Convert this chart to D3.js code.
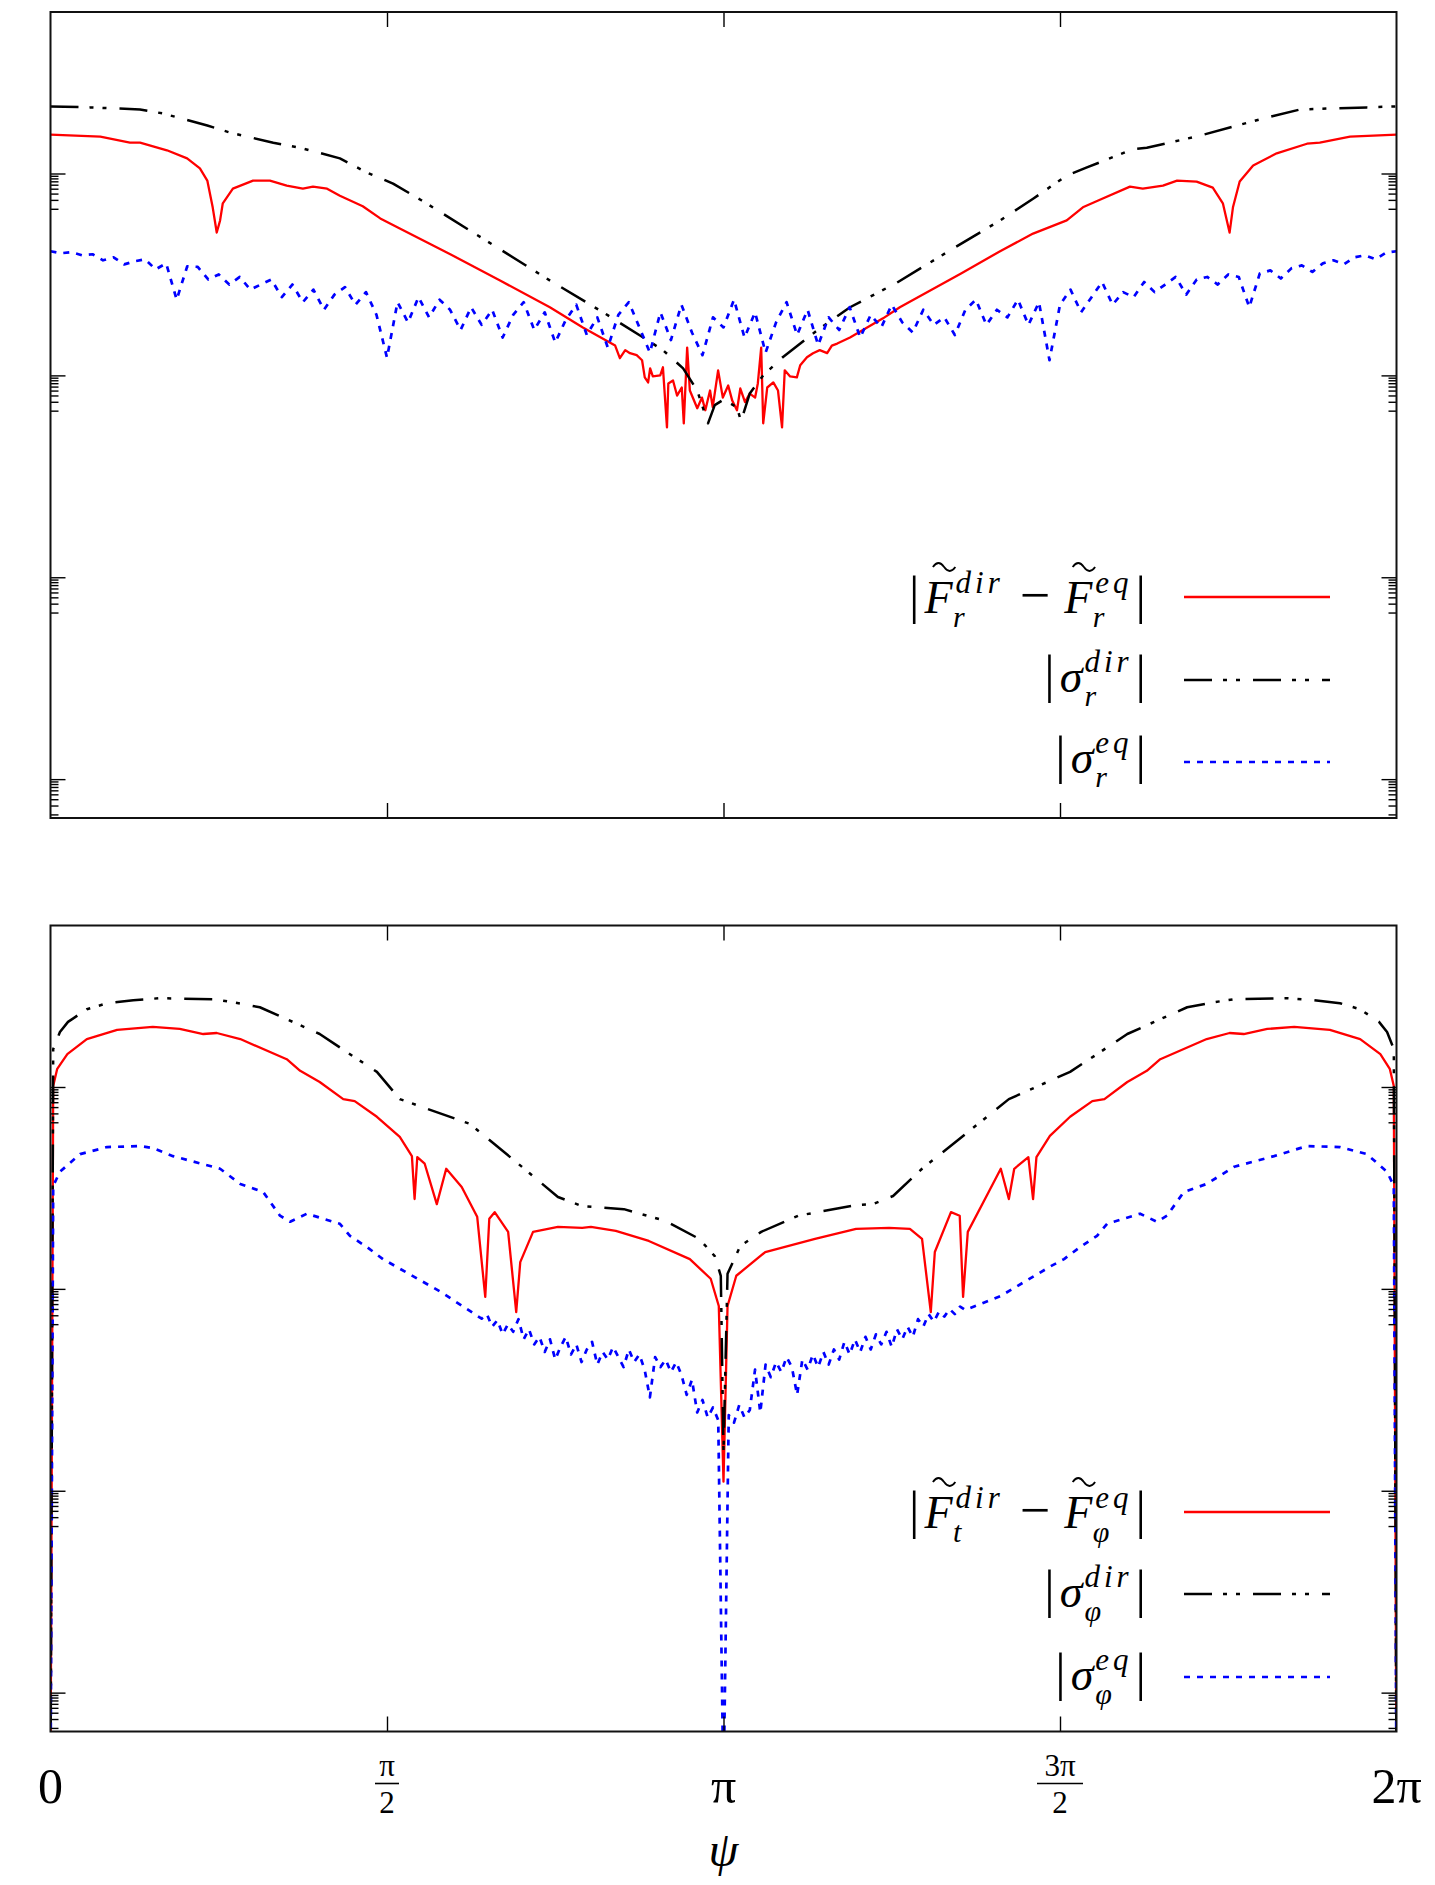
<!DOCTYPE html>
<html>
<head>
<meta charset="utf-8">
<script src="https://cdn.jsdelivr.net/npm/d3@7"></script>
<style>
  body { margin: 0; background: #fff; }
  svg { display: block; }
  text { font-family: 'Liberation Serif', 'Times New Roman', serif; fill: #000; }
</style>
</head>
<body>
<svg id="chart"></svg>
<script>
// psi values are stored in units of pi, magnitudes as log10 of the value

// ---- top panel (r component) ----
const sigDirR_psi = [0, 0.059, 0.133, 0.167, 0.233, 0.267, 0.331, 0.371, 0.430, 0.470,
  0.509, 0.551, 0.640, 0.747, 0.821, 0.876, 0.910, 0.940, 0.961, 0.977,
  0.987, 1.0, 1.020, 1.026, 1.039, 1.059, 1.088, 1.139, 1.188, 1.258,
  1.337, 1.411, 1.460, 1.510, 1.540, 1.608, 1.629, 1.708, 1.757, 1.808,
  1.857, 1.956, 2.0]
const sigDirR_log = [-0.67, -0.69, -0.73, -0.81, -1.05, -1.19, -1.39, -1.49, -1.70, -1.98,
  -2.20, -2.53, -3.27, -4.16, -4.75, -5.21, -5.50, -5.86, -6.30, -6.95,
  -6.59, -6.48, -6.63, -6.91, -6.36, -6.00, -5.64, -5.11, -4.65, -4.16,
  -3.52, -2.93, -2.50, -2.04, -1.88, -1.52, -1.49, -1.25, -1.07, -0.89,
  -0.73, -0.69, -0.67]

const diffR_psi = [0, 0.074, 0.118, 0.133, 0.173, 0.203, 0.222, 0.233, 0.241, 0.247,
  0.252, 0.256, 0.271, 0.301, 0.326, 0.351, 0.375, 0.390, 0.411, 0.430,
  0.464, 0.490, 0.519, 0.594, 0.668, 0.742, 0.791, 0.839, 0.846, 0.854,
  0.861, 0.871, 0.879, 0.883, 0.888, 0.891, 0.895, 0.906, 0.910, 0.916,
  0.918, 0.925, 0.931, 0.938, 0.941, 0.946, 0.950, 0.961, 0.968, 0.973,
  0.980, 0.984, 0.992, 0.999, 1.007, 1.013, 1.020, 1.025, 1.032, 1.039,
  1.047, 1.051, 1.056, 1.059, 1.065, 1.074, 1.081, 1.087, 1.091, 1.099,
  1.109, 1.114, 1.124, 1.133, 1.143, 1.154, 1.161, 1.169, 1.188, 1.237,
  1.262, 1.353, 1.411, 1.460, 1.510, 1.534, 1.561, 1.604, 1.623, 1.653,
  1.674, 1.703, 1.727, 1.742, 1.752, 1.757, 1.767, 1.787, 1.822, 1.867,
  1.886, 1.931, 2.0]
const diffR_log = [-1.23, -1.27, -1.39, -1.39, -1.54, -1.70, -1.90, -2.14, -2.67, -3.17,
  -2.93, -2.59, -2.30, -2.14, -2.14, -2.24, -2.30, -2.26, -2.30, -2.44,
  -2.65, -2.89, -3.09, -3.60, -4.12, -4.65, -5.05, -5.41, -5.66, -5.50,
  -5.56, -5.60, -5.70, -6.04, -6.14, -5.86, -6.02, -6.00, -5.84, -7.03,
  -6.16, -6.10, -6.40, -6.24, -6.95, -5.45, -6.30, -6.65, -6.44, -6.69,
  -6.30, -6.63, -5.90, -6.44, -6.20, -6.50, -6.69, -6.26, -6.53, -6.36,
  -6.44, -6.16, -5.45, -6.95, -6.24, -6.14, -6.30, -7.03, -5.90, -6.02,
  -6.04, -5.80, -5.64, -5.56, -5.50, -5.56, -5.41, -5.37, -5.25, -4.87,
  -4.65, -3.98, -3.54, -3.19, -2.93, -2.67, -2.51, -2.26, -2.30, -2.24,
  -2.14, -2.16, -2.28, -2.59, -3.17, -2.67, -2.16, -1.84, -1.60, -1.41,
  -1.39, -1.27, -1.23]

// sampled every pi/64 from 0 to 2pi
const sigEqR_step = 1 / 64
const sigEqR_log = [
  -3.54, -3.58, -3.56, -3.62, -3.60, -3.72, -3.66, -3.80, -3.74, -3.70,
  -3.90, -3.78, -4.50, -3.84, -3.85, -4.10, -4.00, -4.20, -4.05, -4.30,
  -4.20, -4.10, -4.45, -4.20, -4.55, -4.30, -4.70, -4.40, -4.25, -4.60,
  -4.35, -4.80, -5.65, -4.55, -4.95, -4.45, -4.85, -4.50, -4.70, -5.10,
  -4.65, -5.00, -4.70, -5.25, -4.80, -4.55, -5.10, -4.75, -5.35, -4.90,
  -4.60, -5.20, -4.85, -5.45, -4.80, -4.55, -5.05, -5.55, -4.75, -5.30,
  -4.60, -5.15, -5.60, -4.85, -5.05, -4.50, -5.25, -4.75, -5.55, -4.95,
  -4.55, -5.20, -4.70, -5.40, -4.85, -5.10, -4.65, -5.25, -4.80, -5.05,
  -4.60, -4.95, -5.15, -4.70, -5.00, -4.85, -5.20, -4.70, -4.50, -5.00,
  -4.70, -4.85, -4.50, -5.00, -4.55, -5.70, -4.60, -4.30, -4.75, -4.45,
  -4.15, -4.60, -4.35, -4.45, -4.15, -4.35, -4.20, -4.05, -4.40, -4.10,
  -4.05, -4.20, -4.00, -4.05, -4.65, -3.98, -3.92, -4.08, -3.88, -3.82,
  -3.95, -3.78, -3.72, -3.80, -3.66, -3.62, -3.70, -3.57, -3.54]

// ---- bottom panel (phi component) ----
const sigDirPhi_psi = [0, 0.004, 0.014, 0.026, 0.054, 0.084, 0.123, 0.163, 0.241, 0.271,
  0.311, 0.360, 0.400, 0.445, 0.485, 0.519, 0.623, 0.704, 0.754, 0.790,
  0.852, 0.913, 0.964, 0.987, 0.996, 1.0, 1.006, 1.025, 1.056, 1.111,
  1.197, 1.222, 1.252, 1.295, 1.369, 1.424, 1.515, 1.555, 1.600, 1.640,
  1.689, 1.729, 1.759, 1.837, 1.877, 1.916, 1.946, 1.974, 1.986, 1.996,
  2.0]
const sigDirPhi_log = [-16, -1.25, -0.91, -0.71, -0.46, -0.34, -0.28, -0.24, -0.26, -0.32,
  -0.42, -0.71, -0.95, -1.35, -1.70, -2.24, -2.73, -3.62, -4.18, -4.36,
  -4.42, -4.65, -5.01, -5.35, -5.74, -9.23, -5.70, -5.15, -4.87, -4.55,
  -4.34, -4.32, -4.16, -3.62, -2.83, -2.24, -1.70, -1.35, -0.95, -0.71,
  -0.42, -0.32, -0.26, -0.24, -0.28, -0.34, -0.46, -0.71, -0.91, -1.25,
  -16]

const diffPhi_psi = [0, 0.004, 0.010, 0.025, 0.054, 0.099, 0.152, 0.192, 0.227, 0.247,
  0.282, 0.351, 0.371, 0.400, 0.435, 0.452, 0.485, 0.519, 0.537, 0.541,
  0.545, 0.556, 0.574, 0.588, 0.611, 0.634, 0.646, 0.652, 0.660, 0.680,
  0.692, 0.698, 0.717, 0.754, 0.790, 0.803, 0.840, 0.889, 0.950, 0.981,
  0.993, 1.0, 1.006, 1.019, 1.062, 1.136, 1.197, 1.246, 1.277, 1.295,
  1.308, 1.314, 1.338, 1.351, 1.356, 1.363, 1.394, 1.412, 1.424, 1.432,
  1.453, 1.460, 1.465, 1.485, 1.515, 1.548, 1.566, 1.600, 1.629, 1.649,
  1.718, 1.752, 1.773, 1.808, 1.848, 1.901, 1.946, 1.976, 1.990, 1.996,
  2.0]
const diffPhi_log = [-16, -1.98, -1.64, -1.35, -1.05, -0.87, -0.81, -0.85, -0.95, -0.93,
  -1.05, -1.45, -1.68, -1.90, -2.24, -2.28, -2.59, -2.99, -3.37, -4.22,
  -3.39, -3.52, -4.32, -3.62, -3.98, -4.57, -6.16, -4.61, -4.48, -4.87,
  -6.46, -5.47, -4.87, -4.77, -4.79, -4.77, -4.85, -5.05, -5.41, -5.80,
  -6.34, -9.82, -6.34, -5.74, -5.27, -5.01, -4.81, -4.79, -4.81, -5.01,
  -6.46, -5.27, -4.48, -4.55, -6.16, -4.87, -4.08, -3.62, -4.22, -3.62,
  -3.39, -4.22, -3.39, -2.97, -2.59, -2.28, -2.24, -1.90, -1.68, -1.45,
  -1.05, -0.93, -0.95, -0.85, -0.81, -0.87, -1.05, -1.35, -1.64, -1.98,
  -16]

const sigEqPhiL_psi = [0, 0.004, 0.014, 0.044, 0.084, 0.133, 0.152, 0.182, 0.241, 0.252,
  0.282, 0.316, 0.341, 0.356, 0.381, 0.420, 0.430, 0.445, 0.470, 0.494,
  0.519, 0.580]
const sigEqPhiL_log = [-16, -3.96, -3.68, -3.33, -3.19, -3.17, -3.21, -3.37, -3.58, -3.62,
  -3.92, -4.08, -4.55, -4.67, -4.51, -4.67, -4.71, -4.95, -5.17, -5.41,
  -5.60, -6.06]
// noisy middle part, sampled every pi/128 from 82pi/128 to 174pi/128
const sigEqPhiMid_start = 82
const sigEqPhiMid_step = 1 / 128
const sigEqPhiMid_log = [
  -6.59, -6.50, -6.75, -6.62, -6.90, -6.70, -6.85, -6.60, -7.00, -6.80,
  -7.10, -6.95, -7.25, -7.00, -7.40, -7.15, -6.95, -7.30, -7.10, -7.45,
  -7.20, -7.05, -7.50, -7.25, -7.40, -7.15, -7.35, -7.55, -7.20, -7.45,
  -7.30, -7.60, -8.15, -7.35, -7.55, -7.40, -7.65, -7.45, -7.70, -8.10,
  -7.80, -8.45, -8.20, -8.55, -8.35, -8.60, -16, -8.50, -8.65, -8.30,
  -8.55, -8.40, -7.60, -8.45, -7.50, -7.75, -7.45, -7.65, -7.35, -7.55,
  -8.10, -7.40, -7.60, -7.30, -7.55, -7.25, -7.50, -7.20, -7.40, -7.05,
  -7.30, -7.00, -7.25, -6.95, -7.20, -6.90, -7.10, -6.85, -7.15, -6.80,
  -7.00, -6.75, -6.95, -6.60, -6.75, -6.50, -6.65, -6.45, -6.55, -6.40,
  -6.50, -6.35, -6.42]
const sigEqPhiR_psi = [1.412, 1.485, 1.506, 1.530, 1.555, 1.570, 1.580, 1.619, 1.644, 1.659,
  1.684, 1.718, 1.759, 1.818, 1.867, 1.916, 1.956, 1.986, 1.996, 2.0]
const sigEqPhiR_log = [-6.14, -5.56, -5.41, -5.17, -4.95, -4.71, -4.67, -4.51, -4.67, -4.55,
  -4.08, -3.92, -3.58, -3.37, -3.17, -3.19, -3.33, -3.68, -3.96, -16]

// axes
const yLogRange = [-14.77, 1.2]
const yMajor = [1e-2, 1e-6, 1e-10, 1e-14]
const yMinorMant = [2, 3, 4, 5, 6, 7, 8, 9]
const xTicks = [0.5, 1, 1.5]

/**
 * Layout
 */
const W = 1435
const H = 1885
const xL = 50.5
const xR = 1396.5
const panels = [{ top: 12, bottom: 818 }, { top: 925.5, bottom: 1731.5 }]
const c_red = '#ff0000'
const c_blue = '#0000ff'

let svg = d3.select('#chart').attr('width', W).attr('height', H)

let x = d3.scaleLinear().domain([0, 2 * Math.PI]).range([xL, xR])

function toPts (psi, logs) {
  return psi.map((p, i) => ({ x: p * Math.PI, y: Math.pow(10, logs[i]) }))
}

function gridPts (start, step, logs) {
  return logs.map((v, i) => ({ x: (start + i) * step * Math.PI, y: Math.pow(10, v) }))
}

let yMinor = []
yMajor.forEach((m) => yMinorMant.forEach((k) => yMinor.push(k * m / 10)))

// math label in a single <text>: glyphs with optional tilde / sup / sub
function mathLabel (g, parts, xEnd, base) {
  let lg = g.append('g')
  let t = lg.append('text').attr('x', 0).attr('y', base)
  let pen = 0
  let curDy = 0
  let next = 0
  let tildes = []

  function span (txt, size, italic, dx, yOff, ls) {
    let s = t.append('tspan')
      .attr('dx', dx)
      .attr('dy', yOff - curDy)
      .style('font-size', size + 'px')
      .style('font-style', italic ? 'italic' : 'normal')
      .text(txt)
    if (ls) s.style('letter-spacing', ls + 'px')
    curDy = yOff
    return s.node().getComputedTextLength()
  }

  parts.forEach((p) => {
    let start = next + (p.pre || 0)
    let w = span(p.txt, p.size || 46, p.it, start - pen, 0)
    pen = start + w
    if (p.tilde) tildes.push({ x: start + w * 0.3, w: w * 0.8 })
    let end = pen
    let baseEnd = pen
    if (p.sup) {
      let s0 = baseEnd + (p.supDx || 1)
      let sw = span(p.sup, 31, true, s0 - pen, -20, 4)
      pen = s0 + sw
      end = Math.max(end, pen)
    }
    if (p.sub) {
      let s0 = baseEnd + (p.subDx || 0)
      let sw = span(p.sub, 30, true, s0 - pen, 14, 0)
      pen = s0 + sw
      end = Math.max(end, pen)
    }
    next = end + (p.post || 0)
  })

  tildes.forEach((d) => {
    let ty = base - 46
    lg.append('path')
      .attr('d', `M${d.x},${ty}q${d.w / 4},-8 ${d.w / 2},0t${d.w / 2},0`)
      .attr('fill', 'none')
      .attr('stroke', '#000')
      .attr('stroke-width', 1.8)
  })
  lg.attr('transform', `translate(${xEnd - next},0)`)
}

function drawPanel (idx, series, legend) {
  let p = panels[idx]
  let y = d3.scaleLog()
    .domain([Math.pow(10, yLogRange[0]), Math.pow(10, yLogRange[1])])
    .range([p.bottom, p.top])

  let g = svg.append('g')

  svg.append('clipPath').attr('id', 'clip' + idx)
    .append('rect')
    .attr('x', xL).attr('y', p.top)
    .attr('width', xR - xL).attr('height', p.bottom - p.top)

  let line = d3.line().x((d) => x(d.x)).y((d) => y(d.y))

  // curves
  let cg = g.append('g').attr('clip-path', `url(#clip${idx})`)
  series.forEach((s) => {
    cg.append('path')
      .datum(s.data)
      .attr('d', line)
      .attr('fill', 'none')
      .attr('stroke', s.color)
      .attr('stroke-width', s.width)
      .attr('stroke-dasharray', s.dash)
      .attr('stroke-linejoin', 'round')
  })

  // axes (ticks only, pointing inward)
  let xt = xTicks.map((v) => v * Math.PI)
  g.append('g')
    .attr('transform', `translate(0,${p.bottom})`)
    .call(d3.axisBottom(x).tickValues(xt).tickSize(-15).tickFormat(''))
  g.append('g')
    .attr('transform', `translate(0,${p.top})`)
    .call(d3.axisTop(x).tickValues(xt).tickSize(-15).tickFormat(''))
  g.append('g')
    .attr('transform', `translate(${xL},0)`)
    .call(d3.axisLeft(y).tickValues(yMajor).tickSize(-15).tickFormat(''))
  g.append('g')
    .attr('transform', `translate(${xL},0)`)
    .call(d3.axisLeft(y).tickValues(yMinor).tickSize(-8).tickFormat(''))
  g.append('g')
    .attr('transform', `translate(${xR},0)`)
    .call(d3.axisRight(y).tickValues(yMajor).tickSize(-15).tickFormat(''))
  g.append('g')
    .attr('transform', `translate(${xR},0)`)
    .call(d3.axisRight(y).tickValues(yMinor).tickSize(-8).tickFormat(''))
  g.selectAll('.domain').remove()
  g.selectAll('.tick line').attr('stroke', '#000').attr('stroke-width', 1.4)

  // frame
  g.append('rect')
    .attr('x', xL).attr('y', p.top)
    .attr('width', xR - xL).attr('height', p.bottom - p.top)
    .attr('fill', 'none')
    .attr('stroke', '#111')
    .attr('stroke-width', 2)

  // legend
  legend.forEach((r) => {
    g.append('line')
      .attr('x1', 1184).attr('x2', 1330)
      .attr('y1', r.y).attr('y2', r.y)
      .attr('stroke', r.color)
      .attr('stroke-width', r.width)
      .attr('stroke-dasharray', r.dash)
    mathLabel(g, r.parts, 1146, r.y + r.dy)
  })
}

const dashBlack = '28,11,4,9,4,13'
const dashBlue = '6,7'

let bar = { txt: '|', size: 52, post: 5 }
let barR = { txt: '|', size: 52, pre: 3 }
let minus = { txt: '−', size: 54, pre: 16, post: 14 }

drawPanel(0, [
  { data: toPts(diffR_psi, diffR_log), color: c_red, width: 2.3, dash: null },
  { data: toPts(sigDirR_psi, sigDirR_log), color: '#000', width: 2.5, dash: dashBlack },
  { data: gridPts(0, sigEqR_step, sigEqR_log), color: c_blue, width: 2.7, dash: dashBlue }
], [
  { y: 597, dy: 16, color: c_red, width: 2.3, dash: null,
    parts: [bar, { txt: 'F', it: true, tilde: true, sup: 'dir', sub: 'r', supDx: 3, subDx: 0.5 },
      minus, { txt: 'F', it: true, tilde: true, sup: 'eq', sub: 'r', supDx: 3, subDx: 0.5 }, barR] },
  { y: 680, dy: 12, color: '#000', width: 2.5, dash: dashBlack,
    parts: [bar, { txt: 'σ', it: true, sup: 'dir', sub: 'r', supDx: 2, subDx: 2 }, barR] },
  { y: 762, dy: 11, color: c_blue, width: 2.7, dash: dashBlue,
    parts: [bar, { txt: 'σ', it: true, sup: 'eq', sub: 'r', supDx: 2, subDx: 2 }, barR] }
])

let sigEqPhi = toPts(sigEqPhiL_psi, sigEqPhiL_log)
  .concat(gridPts(sigEqPhiMid_start, sigEqPhiMid_step, sigEqPhiMid_log))
  .concat(toPts(sigEqPhiR_psi, sigEqPhiR_log))

drawPanel(1, [
  { data: toPts(diffPhi_psi, diffPhi_log), color: c_red, width: 2.3, dash: null },
  { data: toPts(sigDirPhi_psi, sigDirPhi_log), color: '#000', width: 2.5, dash: dashBlack },
  { data: sigEqPhi, color: c_blue, width: 2.7, dash: dashBlue }
], [
  { y: 1512, dy: 16, color: c_red, width: 2.3, dash: null,
    parts: [bar, { txt: 'F', it: true, tilde: true, sup: 'dir', sub: 't', supDx: 3, subDx: 0.5 },
      minus, { txt: 'F', it: true, tilde: true, sup: 'eq', sub: 'φ', supDx: 3, subDx: 0.5 }, barR] },
  { y: 1594, dy: 13, color: '#000', width: 2.5, dash: dashBlack,
    parts: [bar, { txt: 'σ', it: true, sup: 'dir', sub: 'φ', supDx: 2, subDx: 2 }, barR] },
  { y: 1677, dy: 13, color: c_blue, width: 2.7, dash: dashBlue,
    parts: [bar, { txt: 'σ', it: true, sup: 'eq', sub: 'φ', supDx: 2, subDx: 2 }, barR] }
])

// x tick labels under the lower panel
let lab = svg.append('g')
lab.append('text').attr('x', x(0)).attr('y', 1803)
  .attr('text-anchor', 'middle').style('font-size', '50px').text('0')
lab.append('text').attr('x', x(Math.PI)).attr('y', 1803)
  .attr('text-anchor', 'middle').style('font-size', '50px').text('π')
lab.append('text').attr('x', x(2 * Math.PI)).attr('y', 1803)
  .attr('text-anchor', 'middle').style('font-size', '50px').text('2π')

function frac (v, num, half) {
  let cx = x(v)
  lab.append('text').attr('x', cx).attr('y', 1776)
    .attr('text-anchor', 'middle').style('font-size', '31px').text(num)
  lab.append('line')
    .attr('x1', cx - half).attr('x2', cx + half)
    .attr('y1', 1783.5).attr('y2', 1783.5)
    .attr('stroke', '#000').attr('stroke-width', 1.6)
  lab.append('text').attr('x', cx).attr('y', 1813)
    .attr('text-anchor', 'middle').style('font-size', '31px').text('2')
}
frac(Math.PI / 2, 'π', 12)
frac(3 * Math.PI / 2, '3π', 23)

lab.append('text').attr('x', x(Math.PI)).attr('y', 1866)
  .attr('text-anchor', 'middle').style('font-size', '48px').style('font-style', 'italic').text('ψ')
</script>
</body>
</html>
